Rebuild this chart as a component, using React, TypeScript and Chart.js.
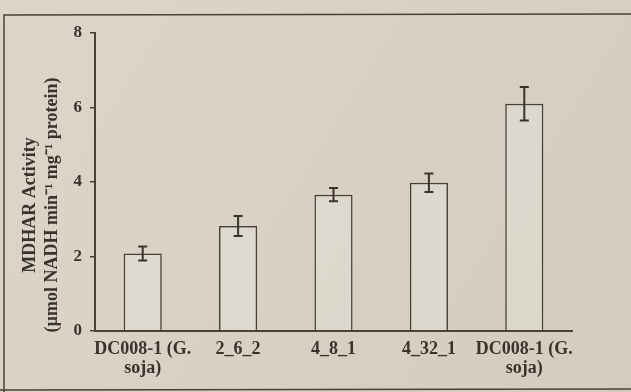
import React, { useEffect, useRef } from "react";
import { Chart, registerables } from "chart.js";

Chart.register(...registerables);

const categories: (string | string[])[] = [
  ["DC008-1 (G.", "soja)"],
  "2_6_2",
  "4_8_1",
  "4_32_1",
  ["DC008-1 (G.", "soja)"],
];
const activity = [2.08, 2.82, 3.66, 3.98, 6.1];
const errors = [0.19, 0.27, 0.18, 0.25, 0.45];
const yTicks = [0, 2, 4, 6, 8];
const yTitle = ["MDHAR Activity", "(\u00b5mol NADH min\u207b\u00b9 mg\u207b\u00b9 protein)"];

const BG = "#d9d3c7";
const INK = "#3a332c";
const LINE = "#4a4037";
const FONT = "'Liberation Serif', 'Times New Roman', serif";

const paperPlugin = {
  id: "paper",
  beforeDraw(chart: any) {
    const { ctx, width, height } = chart;
    ctx.save();
    const g = ctx.createLinearGradient(0, 0, width, height);
    g.addColorStop(0, "#dcd6ca");
    g.addColorStop(1, "#d3cdc0");
    ctx.fillStyle = g;
    ctx.fillRect(0, 0, width, height);
    ctx.strokeStyle = LINE;
    ctx.lineWidth = 1.5;
    ctx.beginPath();
    ctx.moveTo(4, height);
    ctx.lineTo(4, 15);
    ctx.lineTo(width, 14);
    ctx.moveTo(0, 390);
    ctx.lineTo(width, 389);
    ctx.stroke();
    ctx.restore();
  },
  afterDraw(chart: any) {
    const { ctx } = chart;
    ctx.save();
    ctx.fillStyle = INK;
    ctx.font = `bold 18px ${FONT}`;
    ctx.textAlign = "center";
    ctx.textBaseline = "middle";
    ctx.translate(0, 205);
    ctx.rotate(-Math.PI / 2);
    ctx.fillText(yTitle[0], 0, 30);
    ctx.fillText(yTitle[1], 0, 52);
    ctx.restore();
  },
};

const errorBarPlugin = {
  id: "errorBars",
  afterDatasetsDraw(chart: any) {
    const { ctx } = chart;
    const meta = chart.getDatasetMeta(0);
    const y = chart.scales.y;
    ctx.save();
    ctx.strokeStyle = INK;
    ctx.lineWidth = 2;
    meta.data.forEach((bar: any, i: number) => {
      const v = activity[i];
      const e = errors[i];
      const x = bar.x;
      const top = y.getPixelForValue(v + e);
      const bot = y.getPixelForValue(v - e);
      ctx.beginPath();
      ctx.moveTo(x, top);
      ctx.lineTo(x, bot);
      ctx.moveTo(x - 4.5, top);
      ctx.lineTo(x + 4.5, top);
      ctx.moveTo(x - 4.5, bot);
      ctx.lineTo(x + 4.5, bot);
      ctx.stroke();
    });
    ctx.restore();
  },
};

export default function App() {
  const ref = useRef<HTMLCanvasElement | null>(null);
  useEffect(() => {
    if (!ref.current) return;
    const chart = new Chart(ref.current, {
      type: "bar",
      data: {
        labels: categories,
        datasets: [
          {
            data: activity,
            backgroundColor: "rgba(236,232,224,0.35)",
            borderColor: LINE,
            borderWidth: 1.5,
            categoryPercentage: 1,
            barPercentage: 0.4,
          },
        ],
      },
      options: {
        responsive: false,
        animation: false,
        events: [],
        layout: { padding: { top: 33, right: 59, left: 0, bottom: 0 } },
        plugins: {
          legend: { display: false },
          tooltip: { enabled: false },
        },
        scales: {
          x: {
            grid: { display: false, drawTicks: false },
            border: { display: true, color: LINE, width: 2 },
            ticks: {
              color: INK,
              font: { family: FONT, size: 18, weight: "bold", lineHeight: 1.1 },
              padding: 8,
              maxRotation: 0,
              autoSkip: false,
            },
            afterFit(scale: any) {
              scale.height = 61;
            },
          },
          y: {
            min: 0,
            max: 8,
            afterBuildTicks(scale: any) {
              scale.ticks = yTicks.map((v) => ({ value: v }));
            },
            grid: {
              display: true,
              drawOnChartArea: false,
              drawTicks: true,
              tickLength: 5,
              color: LINE,
              lineWidth: 1.5,
            },
            border: { display: true, color: LINE, width: 2 },
            ticks: {
              color: INK,
              font: { family: FONT, size: 17, weight: "bold" },
              padding: 8,
            },
            title: { display: false },
            afterFit(scale: any) {
              scale.width = 95;
            },
          },
        },
      },
      plugins: [paperPlugin, errorBarPlugin],
    });
    return () => chart.destroy();
  }, []);
  return (
    <div style={{ position: "fixed", left: 0, top: 0, width: 631, height: 392, background: BG }}>
      <canvas ref={ref} width={631} height={392} style={{ display: "block", width: 631, height: 392 }} />
    </div>
  );
}
